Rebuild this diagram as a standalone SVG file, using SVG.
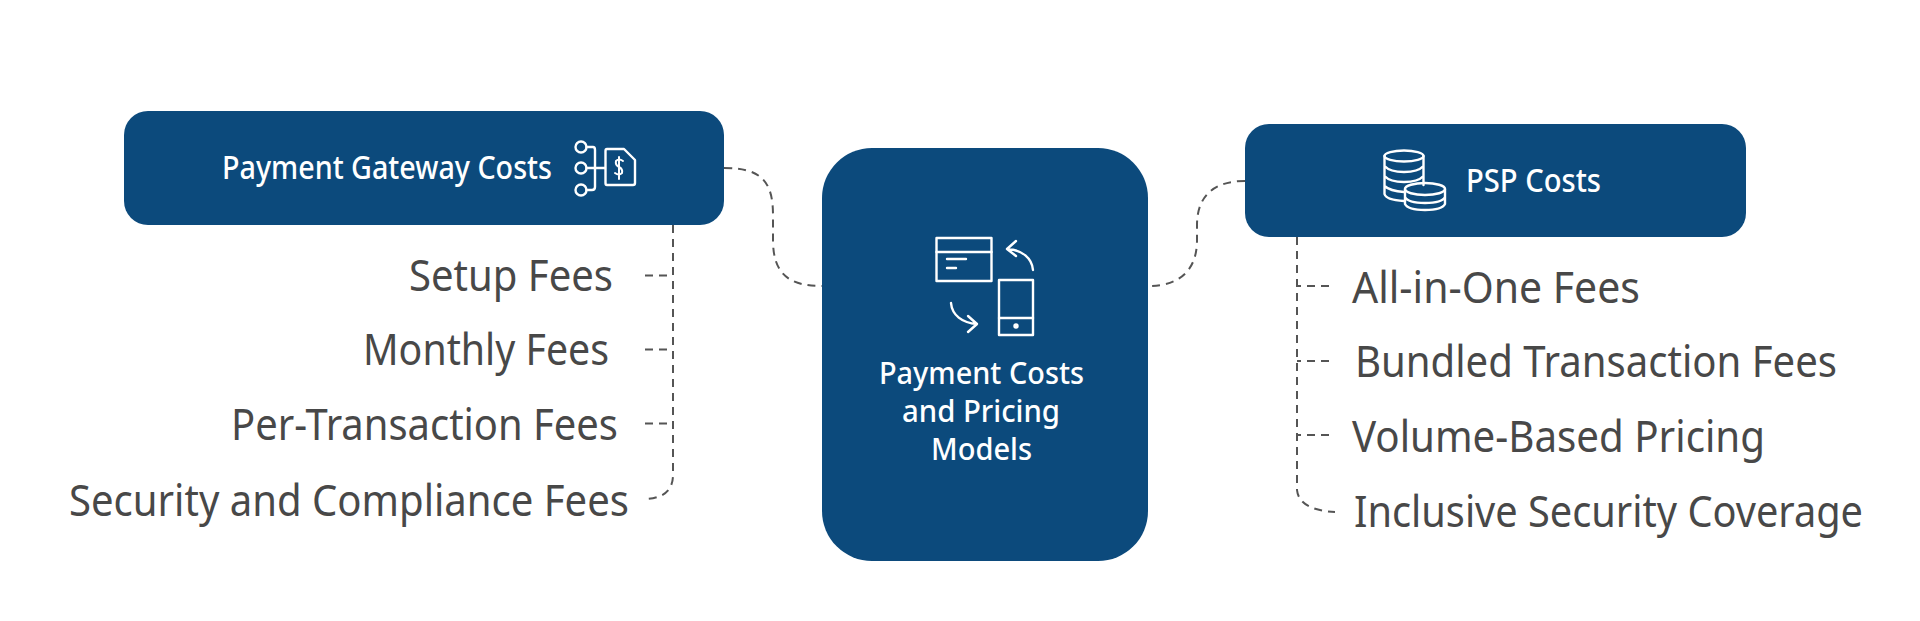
<svg xmlns="http://www.w3.org/2000/svg" width="1920" height="621" viewBox="0 0 1920 621">
<style>
.box{fill:#0c4a7c}
.t{font-family:"Noto Sans","Open Sans","Liberation Sans",sans-serif}
.w{fill:#fff;font-size:32px;font-weight:500}
.m{fill:#fff;font-size:30px;font-weight:500}
.i{fill:#484848;font-size:43px}
.c{fill:none;stroke:#555;stroke-width:2;stroke-dasharray:8 6}
.ic{fill:none;stroke:#fff;stroke-width:2.400;stroke-linejoin:round;stroke-linecap:round}
</style>
<rect width="1920" height="621" fill="#fff"/>
<g id="connectors">
<path class="c" d="M724 168C760 168 773 180 773 215V240C773 275 790 286 822 286"/>
<path class="c" d="M1245 181C1215 181 1197 195 1197 225V240C1197 270 1180 286 1148 286"/>
<path class="c" d="M673 225V475Q673 497 647 499"/>
<path class="c" d="M645 275.500H673M645 349.500H673M645 423.500H673"/>
<path class="c" d="M1297 237V490Q1299 510 1335 512"/>
<path class="c" d="M1329 286H1297M1329 361H1297M1329 435H1297"/>
</g>
<g id="node-gateway">
<rect class="box" x="124" y="111" width="600" height="114" rx="24"/>
<text class="t w" x="222" y="179" textLength="330" lengthAdjust="spacingAndGlyphs">Payment Gateway Costs</text>
<g class="ic">
<circle cx="581" cy="147" r="5.500"/><circle cx="581" cy="168" r="5.500"/><circle cx="581" cy="190" r="5.500"/>
<path d="M586.500 147H593Q595 147 595 150V187Q595 190 592 190H586.500M586.500 168H605"/>
<path d="M607 149H624L635 160V183Q635 185 633 185H607Q605.500 185 605.500 183V151Q605.500 149 607 149Z"/>
<path d="M623 161Q619 158 616 161Q615 165 619 167Q623 169 622 173Q619 176 615 173M619 157V179" stroke-width="2"/>
</g>
</g>
<g id="node-center">
<rect class="box" x="822" y="148" width="326" height="413" rx="50"/>
<g class="ic">
<rect x="936.500" y="238" width="55" height="43"/>
<path d="M936.500 252H991.500M947 259H966M947 268H956"/>
<rect x="999" y="280" width="34" height="55"/>
<path d="M999 318H1033"/>
<path d="M1033 270C1032 258 1022 250 1008 249M1016 241L1007 249L1016 256"/>
<path d="M951 303C952 315 962 323 977 324M968 332L977 324L968 316"/>
<circle cx="1016" cy="326" r="1.500" fill="#fff"/>
</g>
<text class="t m" x="879" y="384" textLength="205" lengthAdjust="spacingAndGlyphs">Payment Costs</text>
<text class="t m" x="902" y="422" textLength="158" lengthAdjust="spacingAndGlyphs">and Pricing</text>
<text class="t m" x="931" y="460" textLength="101" lengthAdjust="spacingAndGlyphs">Models</text>
</g>
<g id="node-psp">
<rect class="box" x="1245" y="124" width="501" height="113" rx="24"/>
<g class="ic">
<ellipse cx="1404" cy="156" rx="19.500" ry="5.500"/>
<path d="M1384.500 156V194Q1386 200 1404 201M1423.500 156V185M1384.500 166Q1390 172 1404 172Q1418 172 1423.500 166M1384.500 176Q1390 182 1404 182Q1418 182 1423.500 176M1384.500 186Q1390 191 1404 192"/>
<ellipse cx="1425" cy="189" rx="20" ry="6"/>
<path d="M1405 189V204Q1408 210 1425 210Q1442 210 1445 204V189M1405 197Q1408 203 1425 203Q1442 203 1445 197"/>
</g>
<text class="t w" x="1466" y="192" textLength="135" lengthAdjust="spacingAndGlyphs">PSP Costs</text>
</g>
<g id="item-setup"><text class="t i" x="409" y="291" textLength="204" lengthAdjust="spacingAndGlyphs">Setup Fees</text></g>
<g id="item-monthly"><text class="t i" x="363" y="365" textLength="246" lengthAdjust="spacingAndGlyphs">Monthly Fees</text></g>
<g id="item-per"><text class="t i" x="231" y="440" textLength="387" lengthAdjust="spacingAndGlyphs">Per-Transaction Fees</text></g>
<g id="item-security"><text class="t i" x="69" y="516" textLength="560" lengthAdjust="spacingAndGlyphs">Security and Compliance Fees</text></g>
<g id="item-allinone"><text class="t i" x="1352" y="303" textLength="288" lengthAdjust="spacingAndGlyphs">All-in-One Fees</text></g>
<g id="item-bundled"><text class="t i" x="1355" y="377" textLength="482" lengthAdjust="spacingAndGlyphs">Bundled Transaction Fees</text></g>
<g id="item-volume"><text class="t i" x="1352" y="452" textLength="413" lengthAdjust="spacingAndGlyphs">Volume-Based Pricing</text></g>
<g id="item-inclusive"><text class="t i" x="1354" y="527" textLength="509" lengthAdjust="spacingAndGlyphs">Inclusive Security Coverage</text></g>
</svg>
